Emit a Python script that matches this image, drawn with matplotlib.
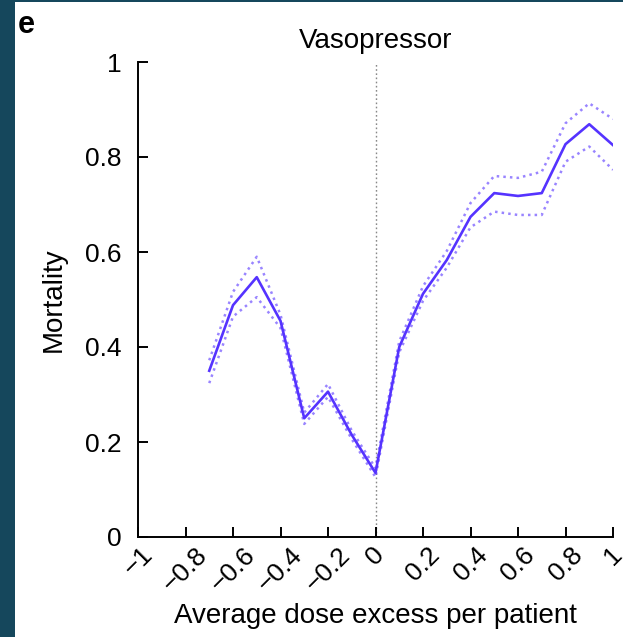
import matplotlib
matplotlib.use("Agg")
import matplotlib.pyplot as plt
from matplotlib.patches import Rectangle

plt.rcParams['font.family'] = ['Liberation Sans', 'DejaVu Sans']

# Vasopressor mortality vs average dose excess
dose = [-0.7, -0.6, -0.5, -0.4, -0.3, -0.2, -0.1, 0.0, 0.1, 0.2,
        0.3, 0.4, 0.5, 0.6, 0.7, 0.8, 0.9, 1.0]
mortality = [0.350, 0.488, 0.547, 0.455, 0.250, 0.306, 0.215, 0.135, 0.400, 0.512,
             0.583, 0.674, 0.724, 0.718, 0.724, 0.827, 0.869, 0.825]
upper = [0.372, 0.516, 0.590, 0.468, 0.262, 0.322, 0.224, 0.145, 0.412, 0.528,
         0.602, 0.703, 0.760, 0.756, 0.769, 0.871, 0.913, 0.880]
lower = [0.324, 0.464, 0.505, 0.440, 0.238, 0.295, 0.206, 0.126, 0.389, 0.497,
         0.567, 0.652, 0.685, 0.678, 0.678, 0.790, 0.822, 0.773]

xticks = [-1, -0.8, -0.6, -0.4, -0.2, 0, 0.2, 0.4, 0.6, 0.8, 1]
xticklabels = ['\u22121', '\u22120.8', '\u22120.6', '\u22120.4', '\u22120.2', '0',
               '0.2', '0.4', '0.6', '0.8', '1']
yticks = [0, 0.2, 0.4, 0.6, 0.8, 1]
yticklabels = ['0', '0.2', '0.4', '0.6', '0.8', '1']

line_color = '#5533ff'

fig = plt.figure(figsize=(6.23, 6.37), dpi=100)
fig.patch.set_facecolor('white')

# dark border strip on the left / top
fig.patches.append(Rectangle((0, 0), 15 / 623, 1, transform=fig.transFigure,
                             facecolor='#15475c', edgecolor='none', zorder=0))
fig.patches.append(Rectangle((0, 1 - 2 / 637), 1, 2 / 637, transform=fig.transFigure,
                             facecolor='#15475c', edgecolor='none', zorder=0))

ax = fig.add_axes([138 / 623, 1 - 537 / 637, 475 / 623, 475 / 637])

ax.axvline(0, color='#888888', linestyle=(0, (1.2, 1.8)), linewidth=1.0, zorder=1)

ax.plot(dose, upper, color=line_color, linestyle=':', linewidth=1.8, alpha=0.6)
ax.plot(dose, lower, color=line_color, linestyle=':', linewidth=1.8, alpha=0.6)
ax.plot(dose, mortality, color=line_color, linewidth=1.9)

ax.set_xlim(-1, 1)
ax.set_ylim(0, 1)
ax.spines['top'].set_visible(False)
ax.spines['right'].set_visible(False)
ax.spines['left'].set_linewidth(1.4)
ax.spines['bottom'].set_linewidth(1.4)

ax.set_xticks(xticks)
ax.set_xticklabels(xticklabels, rotation=45, ha='center', va='top')
ax.set_yticks(yticks)
ax.set_yticklabels(yticklabels)
ax.tick_params(direction='in', length=7, width=1.4, labelsize=19, pad=4)
ax.tick_params(axis='y', pad=12)

ax.set_title('Vasopressor', fontsize=20, pad=10)
ax.set_xlabel('Average dose excess per patient', fontsize=20, labelpad=5)
ax.set_ylabel('Mortality', fontsize=20, labelpad=13)

fig.text(18 / 623, 1 - 33 / 637, 'e', fontsize=22, fontweight='bold')

fig.savefig('out.png', dpi=100)
